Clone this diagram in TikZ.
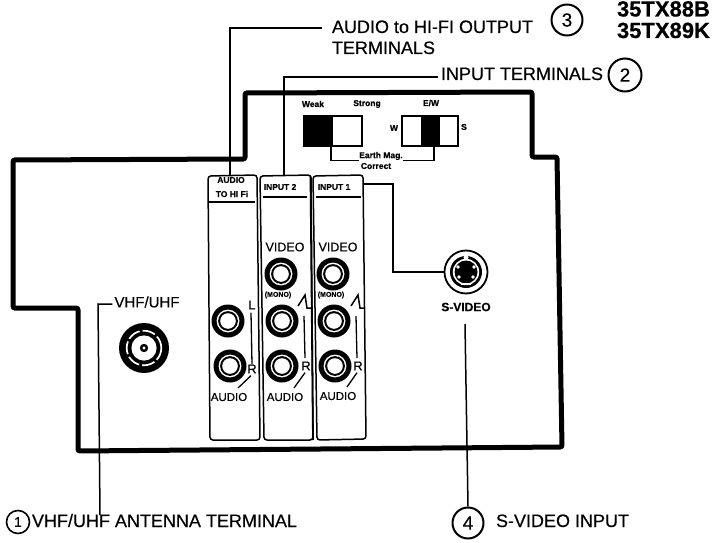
\documentclass[tikz,border=0pt]{standalone}
\usepackage{fontspec}
\setmainfont[FakeBold=0.35,BoldFont={Liberation Sans Bold},BoldFeatures={FakeBold=0.5}]{Liberation Sans}
\newcommand{\fs}[1]{\fontsize{#1}{#1}\selectfont}
\newcommand{\jackat}[3]{%
  \node[jackouter] (#1) at (#2,#3) {};
  \fill[white] (#1) circle (11.4);
  \fill[black] (#1) circle (9.9);
  \fill[white] (#1) circle (7.8);
}
\tikzset{
  lbl/.style={inner sep=0pt,outer sep=0pt,font=\fs{18},anchor=base west},
  num/.style={draw,circle,line width=2pt,inner sep=0pt,minimum size=#1,font=\fs{19}},
  lead/.style={line width=1.5pt},
  case/.style={line width=5pt,rounded corners=2pt},
  panel/.style={line width=1.5pt,rounded corners=3pt},
  tiny/.style={inner sep=0pt,font=\bfseries\fs{8.5}},
  vid/.style={inner sep=0pt,font=\fs{12.5}},
  aud/.style={inner sep=0pt,font=\fs{11.5}},
  mono/.style={inner sep=0pt,font=\bfseries\fs{7}},
  chan/.style={inner sep=0pt,font=\fs{13}},
  jackouter/.style={circle,fill=black,minimum size=33pt,inner sep=0pt,outer sep=0pt},
  thinline/.style={line width=1.3pt},
}
\begin{document}
\begin{tikzpicture}[x=1pt,y=-1pt]
\useasboundingbox (0,0) rectangle (720,543);
% case outline
\draw[case] (245,93) -- (532,92) -- (532,157) -- (557,157) -- (562,447) -- (78,451) -- (78,308) -- (13,308) -- (13,160) -- (245,159) -- cycle;
% panels
\draw[panel] (208,176) -- (257,175) -- (260,440) -- (210,440) -- cycle;
\draw[panel] (260,176) -- (311,175) -- (313,440) -- (264,440) -- cycle;
\draw[panel] (313,176) -- (363,175) -- (366,439) -- (317,440) -- cycle;
\draw[line width=1.8pt] (310.5,176) -- (313,440);
\coordinate (p1top) at (230,176);
\coordinate (p2top) at (284,175);
\coordinate (p3side) at (363,184);
\draw[thinline] (209,202) -- (255,202);
\draw[thinline] (263,197) -- (307,197);
\draw[thinline] (316,197) -- (361,197);
% panel labels
\node[tiny] (aud1) at (231,180) {AUDIO};
\node[tiny] (aud2) at (232,194) {TO HI Fi};
\node[tiny] (inp2) at (280,187) {INPUT 2};
\node[tiny] (inp1) at (334,187) {INPUT 1};
\node[vid] (vid2) at (285,247) {VIDEO};
\node[vid] (vid1) at (338,247) {VIDEO};
\node[mono] (mono2) at (278,295) {(MONO)};
\node[mono] (mono1) at (331,295) {(MONO)};
% jacks
\jackat{ja}{228}{321}
\jackat{jb}{230}{366}
\jackat{jv2}{281}{274}
\jackat{jl2}{282}{321}
\jackat{jr2}{282}{366}
\jackat{jv1}{333}{274}
\jackat{jl1}{334}{321}
\jackat{jr1}{335}{366}
% channel marks
\node[chan] (la) at (252,305) {L};
\node[chan] (ra) at (252,369) {R};
\node[chan] (r2) at (306,366) {R};
\node[chan] (r1) at (358,366) {R};
\node[aud] (aa) at (229,397) {AUDIO};
\node[aud] (a2) at (285,397) {AUDIO};
\node[aud] (a1) at (338,396) {AUDIO};
\draw[thinline] (la.south) ++(-1,3) -- (ra.north);
\draw[thinline] (ra.south) ++(-1,2) -- (238,388);
\draw[thinline] (304,316) -- (305,358);
\draw[thinline] (r2.south) ++(-1,2) -- (294,388);
\draw[thinline] (356,316) -- (357,358);
\draw[thinline] (r1.south) ++(-1,2) -- (347,387);
\draw[line width=1.5pt] (298,306) -- (305,295) -- (307,308) -- (311,308);
\draw[line width=1.5pt] (351,306) -- (358,295) -- (360,308) -- (364,308);
% switches
\node[draw,line width=1.3pt,minimum width=58pt,minimum height=30pt,inner sep=0pt] (sw1) at (333,131) {};
\fill (sw1.north west) rectangle (333,146);
\node[draw,line width=1.3pt,minimum width=56pt,minimum height=30pt,inner sep=0pt] (sw2) at (430,131) {};
\fill (421,116) rectangle (440,146);
\node[tiny] (weak) at (313,104) {Weak};
\node[tiny] (strong) at (367,104) {Strong};
\node[tiny] (ew) at (431,103) {E/W};
\node[tiny] (w) at (394,128) {W};
\node[tiny] (s) at (464,127) {S};
\node[tiny] (earth) at (381,156) {Earth Mag.};
\node[tiny] (corr) at (376,166) {Correct};
\draw[thinline] (331,146) |- (earth.south west);
\draw[thinline] (434,146) |- (earth.south east);
% s-video
\node[circle,draw,line width=1.8pt,minimum size=43pt,inner sep=0pt,fill=white] (sv) at (466,272) {};
\fill (sv) circle (16);
\fill[white] (sv) circle (13.2);
\fill (sv) circle (11.5);
\fill[white] (466,257.5) circle (2.5);
\fill[white] (458,267) circle (1.8);
\fill[white] (474,267) circle (1.8);
\fill[white] (459,277) circle (1.8);
\fill[white] (473,277) circle (1.8);
\fill[white] (461,283) rectangle (471,285);
\node[inner sep=0pt,font=\bfseries\fs{12}] (svl) at (466,307) {S-VIDEO};
% vhf connector
\node[circle,fill=black,minimum size=50pt,inner sep=0pt] (vhf) at (144,348) {};
\draw[white,line width=1.7pt,dash pattern=on 13pt off 3pt] (vhf) circle (17.3);
\fill[white] (vhf) circle (12.6);
\fill (vhf) circle (4.2);
\fill[white] (vhf) circle (1.7);
\node[inner sep=0pt,font=\fs{15}] (vhfl) at (147,302) {VHF/UHF};
% top right
\node[lbl] (audl) at (332,33) {AUDIO to HI-FI OUTPUT};
\node[lbl] (terml) at (332,54) {TERMINALS};
\node[num=31pt] (n3) at (567,20) {3};
\node[lbl] (inl) at (441,80) {INPUT TERMINALS};
\node[num=33pt] (n2) at (625,75) {2};
\node[lbl,font=\bfseries\fs{22}] (m1) at (617,16.5) {35TX88B};
\node[lbl,font=\bfseries\fs{22}] (m2) at (617,38) {35TX89K};
% bottom
\node[num=23pt,line width=1.6pt,font=\fs{14}] (n1) at (18,522) {1};
\node[lbl] (antl) at (32,527) {VHF/UHF ANTENNA TERMINAL};
\node[num=31pt] (n4) at (468,523) {4};
\node[lbl] (svin) at (496,527) {S-VIDEO INPUT};
% leaders
\draw[lead] (audl.west |- 0,28) ++(-10,0) -| (p1top);
\draw[lead] (inl.west |- 0,77) ++(-3,0) -| (p2top);
\draw[lead] (p3side) -| (393,272) -- (sv.west);
\draw[lead] (vhfl.west |- 0,304) ++(-2,0) -- (98,304) -- (100,515);
\draw[lead] (465,324) -- (n4.north);
\end{tikzpicture}
\end{document}
